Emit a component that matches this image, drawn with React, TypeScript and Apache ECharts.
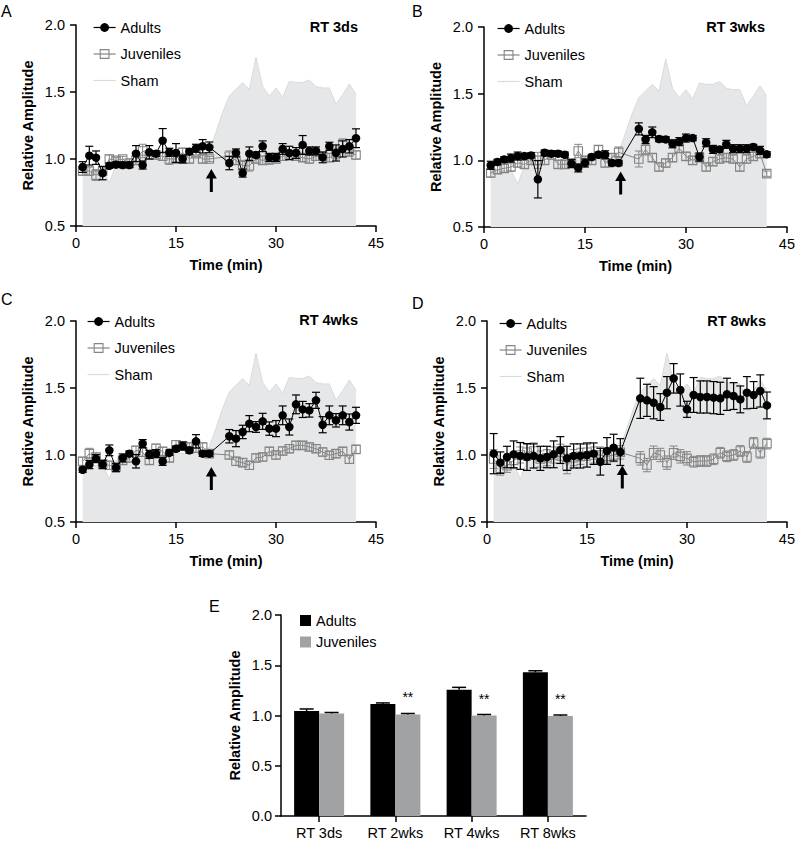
import React, { useEffect, useRef } from 'react';
import * as echarts from 'echarts';

const FONT = '"Liberation Sans", Arial, Helvetica, sans-serif';

// ---------- data ----------
// recording minutes (stimulus between 20 and 23 min)
const TIME = [1, 2, 3, 4, 5, 6, 7, 8, 9, 10, 11, 12, 13, 14, 15, 16, 17, 18, 19, 20,
  23, 24, 25, 26, 27, 28, 29, 30, 31, 32, 33, 34, 35, 36, 37, 38, 39, 40, 41, 42];
const SHAM_TIME = [1, 2, 3, 4, 5, 6, 7, 8, 9, 10, 11, 12, 13, 14, 15, 16, 17, 18, 19, 20,
  21, 22, 23, 24, 25, 26, 27, 28, 29, 30, 31, 32, 33, 34, 35, 36, 37, 38, 39, 40, 41, 42];
const SHAM = [0.92, 0.93, 0.92, 0.93, 0.82, 0.96, 0.98, 0.97, 0.99, 1.0, 1.0, 1.01, 1.0, 1.0, 1.02, 1.01, 1.02, 1.03, 1.03, 1.06,
  1.2, 1.35, 1.47, 1.52, 1.57, 1.52, 1.76, 1.54, 1.47, 1.53, 1.46, 1.58, 1.57, 1.57, 1.59, 1.54, 1.53, 1.53, 1.41, 1.48, 1.56, 1.48];

const A_ADULT = [0.94, 1.025, 1.01, 0.895, 0.95, 0.958, 0.955, 0.955, 1.04, 0.955, 1.05, 1.04, 1.137, 1.05, 1.045, 1.0, 1.055, 1.08, 1.095, 1.087,
  0.97, 1.045, 0.895, 1.04, 1.03, 1.095, 1.012, 1.012, 1.075, 1.045, 1.045, 1.105, 1.06, 1.06, 1.012, 1.095, 1.045, 1.075, 1.095, 1.155];
const A_ADULT_ERR = [0.04, 0.07, 0.05, 0.05, 0.02, 0.02, 0.02, 0.02, 0.06, 0.03, 0.05, 0.02, 0.09, 0.03, 0.07, 0.03, 0.02, 0.03, 0.05, 0.04,
  0.05, 0.03, 0.03, 0.05, 0.02, 0.04, 0.03, 0.03, 0.04, 0.05, 0.04, 0.07, 0.03, 0.03, 0.04, 0.03, 0.06, 0.06, 0.05, 0.07];
const A_JUV = [0.91, 0.91, 0.88, 0.91, 1.0, 0.99, 1.0, 0.97, 0.99, 1.06, 1.03, 1.03, 1.02, 1.0, 1.0, 1.05, 1.0, 1.04, 1.0, 1.0,
  1.02, 0.99, 0.95, 0.95, 1.0, 0.99, 1.0, 1.0, 1.02, 1.03, 1.02, 1.01, 1.0, 1.02, 1.02, 1.01, 1.04, 1.11, 1.06, 1.03];
const A_JUV_ERR = [0.03, 0.03, 0.04, 0.03, 0.03, 0.02, 0.02, 0.03, 0.03, 0.05, 0.03, 0.03, 0.03, 0.04, 0.03, 0.03, 0.03, 0.02, 0.03, 0.02,
  0.04, 0.03, 0.04, 0.04, 0.03, 0.03, 0.04, 0.03, 0.03, 0.03, 0.03, 0.03, 0.03, 0.03, 0.03, 0.03, 0.04, 0.04, 0.04, 0.03];

const B_ADULT = [0.963, 0.988, 1.007, 1.017, 1.032, 1.032, 1.037, 0.858, 1.057, 1.05, 1.05, 1.042, 0.975, 0.943, 0.98, 1.025, 1.042, 1.042, 0.98, 0.98,
  1.236, 1.157, 1.21, 1.16, 1.157, 1.124, 1.14, 1.167, 1.167, 1.025, 1.132, 1.082, 1.082, 1.12, 1.087, 1.087, 1.087, 1.1, 1.075, 1.045];
const B_ADULT_ERR = [0.03, 0.02, 0.02, 0.03, 0.03, 0.02, 0.02, 0.14, 0.02, 0.02, 0.02, 0.02, 0.03, 0.03, 0.03, 0.02, 0.02, 0.03, 0.02, 0.02,
  0.045, 0.03, 0.04, 0.02, 0.02, 0.03, 0.03, 0.03, 0.02, 0.03, 0.03, 0.03, 0.02, 0.03, 0.03, 0.03, 0.03, 0.02, 0.03, 0.02];
const B_JUV = [0.905, 0.93, 0.94, 0.95, 0.98, 0.97, 1.0, 1.0, 1.0, 1.04, 0.97, 0.97, 0.98, 1.07, 1.0, 1.0, 1.08, 0.98, 1.02, 1.06,
  1.01, 1.08, 1.02, 0.95, 0.98, 1.02, 1.09, 1.03, 1.0, 1.02, 0.95, 0.99, 1.01, 1.02, 1.01, 0.95, 1.01, 1.03, 1.05, 0.9];
const B_JUV_ERR = [0.03, 0.03, 0.03, 0.03, 0.03, 0.03, 0.03, 0.06, 0.03, 0.03, 0.03, 0.03, 0.03, 0.05, 0.03, 0.03, 0.03, 0.03, 0.03, 0.04,
  0.06, 0.04, 0.03, 0.03, 0.03, 0.03, 0.03, 0.03, 0.03, 0.03, 0.03, 0.03, 0.03, 0.03, 0.03, 0.03, 0.03, 0.03, 0.03, 0.02];

const C_ADULT = [0.89, 0.928, 0.973, 0.928, 1.035, 0.905, 0.978, 1.01, 0.953, 1.085, 1.005, 1.01, 0.953, 1.017, 1.047, 1.067, 1.035, 1.102, 1.01, 1.01,
  1.14, 1.122, 1.172, 1.234, 1.209, 1.251, 1.197, 1.197, 1.296, 1.209, 1.378, 1.34, 1.333, 1.408, 1.226, 1.296, 1.259, 1.296, 1.246, 1.296];
const C_ADULT_ERR = [0.02, 0.03, 0.03, 0.03, 0.04, 0.03, 0.03, 0.02, 0.05, 0.03, 0.03, 0.03, 0.03, 0.02, 0.02, 0.03, 0.02, 0.05, 0.02, 0.02,
  0.05, 0.06, 0.05, 0.06, 0.04, 0.06, 0.05, 0.06, 0.07, 0.06, 0.07, 0.06, 0.05, 0.06, 0.06, 0.07, 0.05, 0.07, 0.06, 0.06];
const C_JUV = [0.953, 1.01, 0.985, 0.935, 0.923, 0.91, 0.96, 0.978, 1.035, 1.02, 0.96, 1.05, 1.027, 0.978, 1.077, 1.067, 1.06, 1.05, 1.06, 1.01,
  1.0, 0.953, 0.943, 0.923, 0.978, 0.985, 1.027, 1.0, 1.03, 1.047, 1.072, 1.072, 1.06, 1.047, 1.022, 0.998, 1.01, 1.027, 0.968, 1.042];
const C_JUV_ERR = [0.03, 0.04, 0.03, 0.03, 0.03, 0.03, 0.03, 0.03, 0.03, 0.03, 0.03, 0.03, 0.03, 0.03, 0.03, 0.03, 0.03, 0.03, 0.03, 0.03,
  0.03, 0.03, 0.03, 0.03, 0.03, 0.03, 0.03, 0.03, 0.03, 0.03, 0.03, 0.03, 0.03, 0.03, 0.03, 0.03, 0.03, 0.03, 0.03, 0.03];

const D_ADULT = [1.01, 0.943, 0.985, 1.005, 0.993, 0.985, 0.993, 0.975, 0.985, 1.005, 1.037, 0.975, 0.993, 0.993, 1.0, 1.01, 0.95, 1.03, 1.055, 1.022,
  1.423, 1.408, 1.39, 1.358, 1.465, 1.572, 1.485, 1.341, 1.448, 1.433, 1.433, 1.428, 1.423, 1.453, 1.44, 1.415, 1.465, 1.448, 1.478, 1.37];
const D_ADULT_ERR = [0.15, 0.08, 0.08, 0.1, 0.1, 0.1, 0.09, 0.09, 0.08, 0.1, 0.1, 0.09, 0.09, 0.09, 0.09, 0.08, 0.1, 0.1, 0.1, 0.1,
  0.15, 0.12, 0.12, 0.1, 0.12, 0.11, 0.12, 0.06, 0.13, 0.12, 0.12, 0.12, 0.12, 0.12, 0.1, 0.1, 0.12, 0.1, 0.12, 0.1];
const D_JUV = [0.97, 0.9, 0.92, 0.96, 1.0, 1.02, 1.03, 0.97, 0.98, 1.0, 1.02, 0.92, 0.98, 0.99, 1.02, 1.0, 1.0, 0.99, 1.0, 1.02,
  0.975, 0.925, 1.017, 1.0, 0.943, 1.017, 0.99, 0.975, 0.95, 0.955, 0.955, 0.968, 1.017, 0.99, 1.0, 1.03, 0.985, 1.09, 1.017, 1.085];
const D_JUV_ERR = [0.07, 0.05, 0.05, 0.06, 0.06, 0.06, 0.06, 0.06, 0.06, 0.06, 0.06, 0.06, 0.06, 0.06, 0.06, 0.06, 0.06, 0.05, 0.05, 0.05,
  0.05, 0.05, 0.05, 0.05, 0.05, 0.05, 0.05, 0.05, 0.04, 0.04, 0.04, 0.04, 0.04, 0.04, 0.04, 0.04, 0.04, 0.04, 0.04, 0.04];

const PANEL_TAGS = ['RT 3ds', 'RT 3wks', 'RT 4wks', 'RT 8wks'];
const ARROW_X = 20.3;
const ARROW_Y = [0.84, 0.83, 0.825, 0.835];
const TIME_TICKS = [0, 15, 30, 45];

const E_CATS = ['RT 3ds', 'RT 2wks', 'RT 4wks', 'RT 8wks'];
const E_ADULT = [1.045, 1.115, 1.255, 1.43];
const E_ADULT_ERR = [0.02, 0.01, 0.025, 0.015];
const E_JUV = [1.02, 1.01, 1.0, 0.995];
const E_JUV_ERR = [0.01, 0.01, 0.01, 0.01];
const E_SIG = ['', '**', '**', '**'];

// ---------- layout / style ----------
const GRIDS = [
  { left: 76, top: 25, width: 300, height: 201 },
  { left: 484, top: 27, width: 303, height: 200 },
  { left: 76, top: 321, width: 300, height: 201 },
  { left: 487, top: 321, width: 303, height: 201 },
];
const GRID_E = { left: 281, top: 615, width: 305, height: 201 };
const LEGEND_POS = [
  { left: 93, top: 20 },
  { left: 497, top: 21 },
  { left: 87, top: 314 },
  { left: 499, top: 316 },
];
const LETTERS = [
  { text: 'A', left: 1, top: 3 },
  { text: 'B', left: 412, top: 3 },
  { text: 'C', left: 1, top: 291 },
  { text: 'D', left: 412, top: 295 },
  { text: 'E', left: 209, top: 598 },
];
const TAG_POS = [
  { right: 440, top: 19 },
  { right: 33, top: 19 },
  { right: 440, top: 312 },
  { right: 32, top: 313 },
];

const FS = 14.5;
const BLACK = '#000';
const JUV_GRAY = '#858585';
const CLEAR = 'rgba(255,255,255,0)';
const SHAM_FILL = '#e6e7e8';
const SHAM_LINE = '#d9dadb';
const E_JUV_COLOR = '#a0a2a4';
const BAR_W = 25;

const PANELS = [
  { adult: A_ADULT, adultErr: A_ADULT_ERR, juv: A_JUV, juvErr: A_JUV_ERR },
  { adult: B_ADULT, adultErr: B_ADULT_ERR, juv: B_JUV, juvErr: B_JUV_ERR },
  { adult: C_ADULT, adultErr: C_ADULT_ERR, juv: C_JUV, juvErr: C_JUV_ERR },
  { adult: D_ADULT, adultErr: D_ADULT_ERR, juv: D_JUV, juvErr: D_JUV_ERR },
];

const axisLine = { show: true, lineStyle: { color: BLACK, width: 1.5 } };
const axisTick = { show: true, length: 6, lineStyle: { color: BLACK, width: 1.5 } };

function errRender(color: string, cap: number, lw: number) {
  return (params: any, api: any) => {
    const x = api.value(0);
    const y = api.value(1);
    const e = api.value(2);
    const top = api.coord([x, y + e]);
    const bot = api.coord([x, y - e]);
    const style = { stroke: color, lineWidth: lw, fill: 'none' };
    return {
      type: 'group',
      children: [
        { type: 'line', shape: { x1: top[0], y1: top[1], x2: bot[0], y2: bot[1] }, style },
        { type: 'line', shape: { x1: top[0] - cap / 2, y1: top[1], x2: top[0] + cap / 2, y2: top[1] }, style },
        { type: 'line', shape: { x1: bot[0] - cap / 2, y1: bot[1], x2: bot[0] + cap / 2, y2: bot[1] }, style },
      ],
    };
  };
}

function barErrRender(offset: number) {
  return (params: any, api: any) => {
    const k = api.value(0);
    const y = api.value(1);
    const e = api.value(2);
    const base = api.coord([k, y]);
    const top = api.coord([k, y + e]);
    const cx = base[0] + offset;
    const style = { stroke: BLACK, lineWidth: 1.5, fill: 'none' };
    return {
      type: 'group',
      children: [
        { type: 'line', shape: { x1: cx, y1: base[1], x2: cx, y2: top[1] }, style },
        { type: 'line', shape: { x1: cx - 7, y1: top[1], x2: cx + 7, y2: top[1] }, style },
      ],
    };
  };
}

function buildOption() {
  const grid: any[] = [];
  const xAxis: any[] = [];
  const yAxis: any[] = [];
  const series: any[] = [];
  const legend: any[] = [];
  const title: any[] = [];

  PANELS.forEach((p, i) => {
    grid.push({ ...GRIDS[i], containLabel: false });
    xAxis.push({
      gridIndex: i,
      type: 'value',
      min: TIME_TICKS[0],
      max: TIME_TICKS[TIME_TICKS.length - 1],
      interval: TIME_TICKS[1] - TIME_TICKS[0],
      name: 'Time (min)',
      nameLocation: 'middle',
      nameGap: 31,
      nameTextStyle: { fontWeight: 'bold', fontSize: FS, color: BLACK, fontFamily: FONT },
      axisLine,
      axisTick,
      axisLabel: { color: BLACK, fontSize: FS, margin: 9, fontFamily: FONT },
      splitLine: { show: false },
    });
    yAxis.push({
      gridIndex: i,
      type: 'value',
      min: 0.5,
      max: 2.0,
      interval: 0.5,
      name: 'Relative Amplitude',
      nameLocation: 'middle',
      nameGap: 41,
      nameTextStyle: { fontWeight: 'bold', fontSize: FS, color: BLACK, fontFamily: FONT },
      axisLine,
      axisTick,
      axisLabel: { color: BLACK, fontSize: FS, margin: 11, fontFamily: FONT, formatter: (v: number) => v.toFixed(1) },
      splitLine: { show: false },
    });

    series.push({
      type: 'line',
      name: 'Sham',
      xAxisIndex: i,
      yAxisIndex: i,
      data: SHAM_TIME.map((t, k) => [t, SHAM[k]]),
      symbol: 'none',
      lineStyle: { color: SHAM_LINE, width: 1 },
      itemStyle: { color: SHAM_LINE },
      areaStyle: { color: SHAM_FILL, opacity: 1, origin: 'start' },
      z: 1,
      silent: true,
    });
    series.push({
      type: 'custom',
      name: 'juv-err-' + i,
      xAxisIndex: i,
      yAxisIndex: i,
      data: TIME.map((t, k) => [t, p.juv[k], p.juvErr[k]]),
      encode: { x: 0, y: 1 },
      renderItem: errRender(JUV_GRAY, 8, 1),
      z: 2,
      silent: true,
    });
    series.push({
      type: 'line',
      name: 'Juveniles',
      xAxisIndex: i,
      yAxisIndex: i,
      data: TIME.map((t, k) => [t, p.juv[k]]),
      symbol: 'rect',
      symbolSize: 8.5,
      lineStyle: { color: JUV_GRAY, width: 1 },
      itemStyle: { color: CLEAR, borderColor: JUV_GRAY, borderWidth: 1.1 },
      z: 3,
      silent: true,
    });
    series.push({
      type: 'custom',
      name: 'adult-err-' + i,
      xAxisIndex: i,
      yAxisIndex: i,
      data: TIME.map((t, k) => [t, p.adult[k], p.adultErr[k]]),
      encode: { x: 0, y: 1 },
      renderItem: errRender(BLACK, 8, 1.2),
      z: 4,
      silent: true,
    });
    series.push({
      type: 'line',
      name: 'Adults',
      xAxisIndex: i,
      yAxisIndex: i,
      data: TIME.map((t, k) => [t, p.adult[k]]),
      symbol: 'circle',
      symbolSize: 8.5,
      lineStyle: { color: BLACK, width: 1 },
      itemStyle: { color: BLACK },
      z: 5,
      silent: true,
    });
    series.push({
      type: 'scatter',
      name: 'arrow-' + i,
      xAxisIndex: i,
      yAxisIndex: i,
      data: [[ARROW_X, ARROW_Y[i]]],
      symbol: 'path://M5.5,0L11,9.5L7,9.5L7,23L4,23L4,9.5L0,9.5Z',
      symbolSize: [11, 23],
      itemStyle: { color: BLACK, opacity: 1 },
      z: 6,
      silent: true,
    });

    legend.push({
      ...LEGEND_POS[i],
      orient: 'vertical',
      itemWidth: 22,
      itemHeight: 11,
      itemGap: 11.5,
      selectedMode: false,
      padding: 0,
      textStyle: { fontSize: FS, color: BLACK, fontFamily: FONT },
      lineStyle: { width: 1.2 },
      data: [
        { name: 'Adults', itemStyle: { color: BLACK, borderWidth: 0 } },
        { name: 'Juveniles', itemStyle: { color: CLEAR, borderColor: JUV_GRAY, borderWidth: 1.1 }, lineStyle: { color: JUV_GRAY, width: 1.2 } },
        { name: 'Sham', itemStyle: { opacity: 0 } },
      ],
    });
    title.push({
      text: PANEL_TAGS[i],
      ...TAG_POS[i],
      padding: 0,
      textStyle: { fontSize: FS, fontWeight: 'bold', color: BLACK, fontFamily: FONT },
    });
  });

  // Panel E
  grid.push({ ...GRID_E, containLabel: false });
  xAxis.push({
    gridIndex: 4,
    type: 'category',
    data: E_CATS,
    axisLine,
    axisTick: { ...axisTick, alignWithLabel: true },
    axisLabel: { color: BLACK, fontSize: FS, margin: 9, fontFamily: FONT },
    splitLine: { show: false },
  });
  yAxis.push({
    gridIndex: 4,
    type: 'value',
    min: 0,
    max: 2.0,
    interval: 0.5,
    name: 'Relative Amplitude',
    nameLocation: 'middle',
    nameGap: 39,
    nameTextStyle: { fontWeight: 'bold', fontSize: FS, color: BLACK, fontFamily: FONT },
    axisLine,
    axisTick,
    axisLabel: { color: BLACK, fontSize: FS, margin: 9, fontFamily: FONT, formatter: (v: number) => v.toFixed(1) },
    splitLine: { show: false },
  });
  series.push({
    type: 'bar',
    name: 'Adults (E)',
    xAxisIndex: 4,
    yAxisIndex: 4,
    data: E_ADULT,
    barWidth: BAR_W,
    barGap: '0%',
    itemStyle: { color: BLACK },
    silent: true,
  });
  series.push({
    type: 'bar',
    name: 'Juveniles (E)',
    xAxisIndex: 4,
    yAxisIndex: 4,
    barWidth: BAR_W,
    barGap: '0%',
    itemStyle: { color: E_JUV_COLOR },
    data: E_JUV.map((v, k) => ({
      value: v,
      label: {
        show: E_SIG[k] !== '',
        formatter: E_SIG[k],
        position: 'top',
        distance: 10,
        fontSize: 14,
        color: BLACK,
        fontFamily: FONT,
      },
    })),
    silent: true,
  });
  series.push({
    type: 'custom',
    name: 'e-adult-err',
    xAxisIndex: 4,
    yAxisIndex: 4,
    data: E_ADULT.map((v, k) => [k, v, E_ADULT_ERR[k]]),
    encode: { x: 0, y: 1 },
    renderItem: barErrRender(-BAR_W / 2),
    z: 3,
    silent: true,
  });
  series.push({
    type: 'custom',
    name: 'e-juv-err',
    xAxisIndex: 4,
    yAxisIndex: 4,
    data: E_JUV.map((v, k) => [k, v, E_JUV_ERR[k]]),
    encode: { x: 0, y: 1 },
    renderItem: barErrRender(BAR_W / 2),
    z: 3,
    silent: true,
  });
  legend.push({
    left: 300,
    top: 613,
    orient: 'vertical',
    itemWidth: 11,
    itemHeight: 11,
    itemGap: 6.5,
    icon: 'rect',
    selectedMode: false,
    padding: 0,
    textStyle: { fontSize: FS, color: BLACK, fontFamily: FONT },
    formatter: (n: string) => n.replace(' (E)', ''),
    data: ['Adults (E)', 'Juveniles (E)'],
  });

  LETTERS.forEach((l) => {
    title.push({
      text: l.text,
      left: l.left,
      top: l.top,
      padding: 0,
      textStyle: { fontSize: 16, fontWeight: 'normal', color: BLACK, fontFamily: FONT },
    });
  });

  return {
    animation: false,
    backgroundColor: '#fff',
    textStyle: { fontFamily: FONT },
    title,
    legend,
    grid,
    xAxis,
    yAxis,
    series,
  };
}

export default function App() {
  const ref = useRef<HTMLDivElement>(null);
  useEffect(() => {
    if (!ref.current) return;
    const chart = echarts.init(ref.current, undefined, { renderer: 'svg' });
    chart.setOption(buildOption() as any);
    return () => chart.dispose();
  }, []);
  return (
    <div
      ref={ref}
      style={{ position: 'absolute', left: 0, top: 0, width: 798, height: 842, background: '#fff' }}
    />
  );
}
